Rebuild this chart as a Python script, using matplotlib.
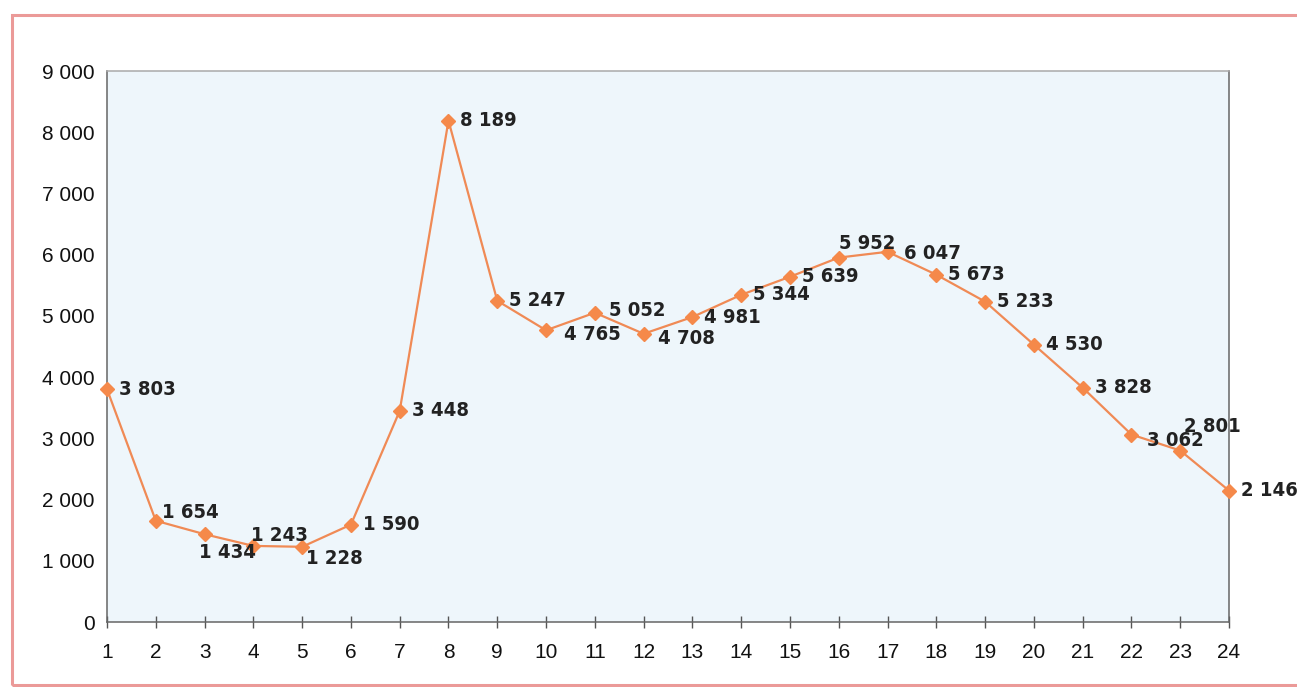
import matplotlib
matplotlib.use("Agg")
import matplotlib.pyplot as plt
from matplotlib.patches import Rectangle
from matplotlib import font_manager

x_vals = list(range(1, 25))
values = [3803, 1654, 1434, 1243, 1228, 1590, 3448, 8189, 5247, 4765, 5052, 4708,
          4981, 5344, 5639, 5952, 6047, 5673, 5233, 4530, 3828, 3062, 2801, 2146]
y_ticks = [0, 1000, 2000, 3000, 4000, 5000, 6000, 7000, 8000, 9000]

def fmt(v):
    return f"{v:,}".replace(",", " ")

# label offsets in pixels (dx, dy)
offsets = [(12, 0), (6, 8), (-6, -18), (-2, 10), (4, -12), (12, 0), (12, 0), (12, 0),
           (12, 0), (18, -4), (14, 2), (14, -5), (12, 0), (12, 0), (12, 0), (0, 14),
           (16, -2), (12, 0), (12, 0), (12, 0), (12, 0), (16, -6), (4, 24), (12, 0)]

fp = font_manager.FontProperties(family="DejaVu Sans", weight="bold", stretch="condensed")
path = font_manager.findfont(fp)

W, H = 1297, 687
fig = plt.figure(figsize=(W / 100, H / 100), dpi=100)
fig.patch.set_facecolor("white")

fig.patches.append(Rectangle((12 / W, 2 / H), 1.2, (H - 15 - 2) / H, transform=fig.transFigure,
                             fill=False, edgecolor="#eb9a98", linewidth=2.2))

left, right, top, bottom = 107, 1229, 71, 622
ax = fig.add_axes([left / W, 1 - bottom / H, (right - left) / W, (bottom - top) / H])
ax.set_facecolor("#eef6fb")

ax.plot(x_vals, values, color="#f08a55", linewidth=1.6, marker="D", markersize=7,
        markerfacecolor="#f5894a", markeredgecolor="#f5894a", zorder=3, clip_on=False)

lbl_font = font_manager.FontProperties(fname=path, size=14.5)
for xv, v, (dx, dy) in zip(x_vals, values, offsets):
    ax.annotate(fmt(v), (xv, v), xytext=(dx, dy), textcoords="offset pixels",
                ha="left", va="center", fontproperties=lbl_font,
                color="#222222", zorder=4)

ax.set_xlim(1, 24)
ax.set_ylim(0, 9000)
ax.set_xticks(x_vals)
ax.set_xticklabels([str(v) for v in x_vals])
ax.set_yticks(y_ticks)
ax.set_yticklabels([fmt(v) for v in y_ticks])

for lab in ax.get_xticklabels() + ax.get_yticklabels():
    lab.set_family("Liberation Sans")
    lab.set_fontsize(15)
    lab.set_color("#111111")

ax.tick_params(axis="x", direction="inout", length=8, width=1, color="#555555", pad=11)
ax.tick_params(axis="y", length=0, pad=9)

for side, sp in ax.spines.items():
    sp.set_color("#666666")
    sp.set_linewidth(1.1)
ax.spines["top"].set_color("#aaaaaa")

fig.savefig("out.png", dpi=100)
